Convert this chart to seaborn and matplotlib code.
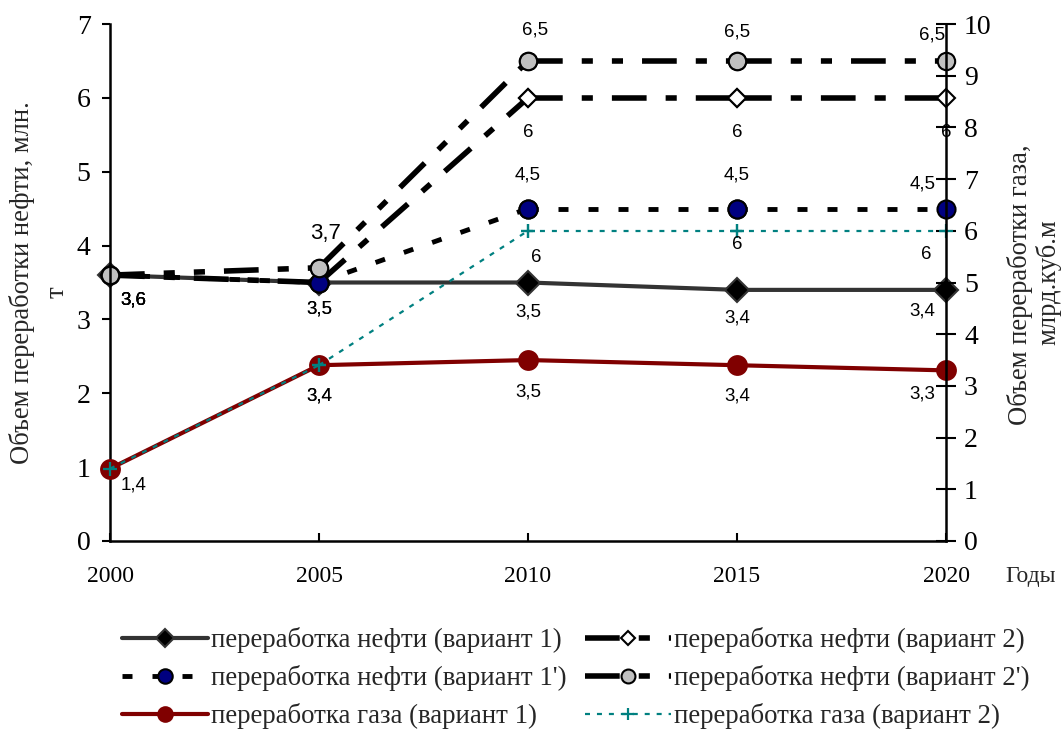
import matplotlib
matplotlib.use("Agg")
import matplotlib.pyplot as plt
import pandas as pd
import seaborn as sns

# ---- data -------------------------------------------------------------
years = [2000, 2005, 2010, 2015, 2020]
oil_v1 = [3.6, 3.5, 3.5, 3.4, 3.4]       # переработка нефти (вариант 1)
oil_v1p = [3.6, 3.5, 4.5, 4.5, 4.5]      # переработка нефти (вариант 1')
oil_v2 = [3.6, 3.5, 6.0, 6.0, 6.0]       # переработка нефти (вариант 2)
oil_v2p = [3.6, 3.7, 6.5, 6.5, 6.5]      # переработка нефти (вариант 2')
gas_v1 = [1.4, 3.4, 3.5, 3.4, 3.3]       # переработка газа (вариант 1)
gas_v2 = [1.4, 3.4, 6.0, 6.0, 6.0]       # переработка газа (вариант 2)

names = {
    "oil_v1": "переработка нефти (вариант 1)",
    "oil_v1p": "переработка нефти (вариант 1')",
    "oil_v2": "переработка нефти (вариант 2)",
    "oil_v2p": "переработка нефти (вариант 2')",
    "gas_v1": "переработка газа (вариант 1)",
    "gas_v2": "переработка газа (вариант 2)",
}

left_ticks = [0, 1, 2, 3, 4, 5, 6, 7]
right_ticks = [0, 1, 2, 3, 4, 5, 6, 7, 8, 9, 10]
left_title = ["Объем переработки нефти, млн.", "т"]
right_title = ["Объем переработки газа,", "млрд.куб.м"]
x_title = "Годы"

df = pd.DataFrame({"year": years, "oil_v1": oil_v1, "oil_v1p": oil_v1p,
                   "oil_v2": oil_v2, "oil_v2p": oil_v2p,
                   "gas_v1": gas_v1, "gas_v2": gas_v2})

# long form split into consecutive pairs, so that each dashed segment
# starts its dash pattern afresh at every data point
seg_rows = []
for i in range(len(years) - 1):
    for j in (i, i + 1):
        row = df.iloc[j].to_dict()
        row["seg"] = i
        seg_rows.append(row)
seg_df = pd.DataFrame(seg_rows)

# ---- styling ----------------------------------------------------------
sns.set_theme(style="white")
plt.rcParams["font.family"] = ["Liberation Serif", "DejaVu Serif"]
plt.rcParams["lines.scale_dashes"] = False
plt.rcParams["axes.linewidth"] = 1.8

SERIF = ["Liberation Serif", "DejaVu Serif"]
SANS = ["Liberation Sans", "DejaVu Sans"]

styles = {
    "oil_v1": dict(color="#333333", lw=3.0, ls="-", marker="D", ms=12,
                   mfc="black", mec="#333333", mew=1.5, segmented=False),
    "oil_v1p": dict(color="black", lw=3.5, ls=(0, (7.2, 14.4)), marker="o", ms=13,
                    mfc="#000080", mec="black", mew=1.5, segmented=True),
    "oil_v2": dict(color="black", lw=4.0, ls=(0, (25, 13.7, 8, 13.7)), marker="D",
                   ms=9, mfc="white", mec="black", mew=1.5, segmented=True),
    "oil_v2p": dict(color="black", lw=4.0, ls=(0, (25, 13.7, 8, 13.7, 8, 13.7)),
                    marker="o", ms=12.5, mfc="#C0C0C0", mec="black", mew=1.5,
                    segmented=True),
    "gas_v1": dict(color="#800000", lw=3.0, ls="-", marker="o", ms=15,
                   mfc="#800000", mec="#800000", mew=0, segmented=False),
    "gas_v2": dict(color="#008080", lw=1.6, ls=(0, (3.6, 5.0)), marker="+", ms=10,
                   mfc="#008080", mec="#008080", mew=1.6, segmented=True),
}

# value labels: offset (points) of each label, None where no label is drawn
label_offsets = {
    "oil_v1": [(17, -18), (0, -19), (0, -21), (0, -20), (-17, -15)],
    "oil_v1p": [(17, -18), None, (0, 24), (0, 24), (-17, 18)],
    "oil_v2": [(17, -18), (0, -19), (0, -25), (0, -25), (0, -25)],
    "oil_v2p": [(17, -18), (5, 25), (5, 22), (0, 21), (-10, 19)],
    "gas_v1": [(17, -12), (0, -22), (0, -23), (0, -22), (-17, -17)],
    "gas_v2": [None, (0, -22), (6, -19), (0, -10), (-14, -17)],
}
label_sizes = {"oil_v2p": [13.5, 16, 13.5, 13.5, 13.5]}

fig = plt.figure(figsize=(10.63, 7.33), dpi=100)
ax = fig.add_axes([110 / 1063, 1 - 541 / 733, (946 - 110) / 1063, (541 - 24) / 733])
ax2 = ax.twinx()


def draw(axis, key):
    st = styles[key]
    kw = dict(x="year", y=key, ax=axis, color=st["color"], linewidth=st["lw"],
              linestyle=st["ls"], marker=st["marker"], markersize=st["ms"],
              markerfacecolor=st["mfc"], markeredgecolor=st["mec"],
              markeredgewidth=st["mew"], clip_on=False, legend=False)
    n_before = len(axis.lines)
    if st["segmented"]:
        sns.lineplot(data=seg_df, units="seg", estimator=None, **kw)
    else:
        sns.lineplot(data=df, **kw)
    line = axis.lines[n_before]
    sizes = label_sizes.get(key, [13.5] * len(years))
    for i, (xv, yv) in enumerate(zip(years, df[key])):
        off = label_offsets[key][i]
        if off is None:
            continue
        axis.annotate(f"{yv:g}".replace(".", ","), (xv, yv), xytext=off,
                      textcoords="offset points", ha="center", va="center",
                      fontsize=sizes[i], family=SANS, color="black",
                      annotation_clip=False)
    return line


handles = {}
for k in ["oil_v1", "oil_v2", "oil_v1p", "oil_v2p"]:
    handles[k] = draw(ax, k)
for k in ["gas_v1", "gas_v2"]:
    handles[k] = draw(ax2, k)

# ---- axes -------------------------------------------------------------
ax.set_xlim(2000, 2020)
ax.set_ylim(0, 7)
ax2.set_ylim(0, 10)
ax.set_xticks(years)
ax.set_xticklabels([str(y) for y in years])
ax.set_yticks(left_ticks)
ax2.set_yticks(right_ticks)
ax.set_xlabel("")
ax.set_ylabel("")
ax2.set_ylabel("")

for s in ["top", "right"]:
    ax.spines[s].set_visible(False)
for s in ["top", "left", "bottom"]:
    ax2.spines[s].set_visible(False)
for sp in [ax.spines["left"], ax.spines["bottom"], ax2.spines["right"]]:
    sp.set_color("black")
    sp.set_linewidth(1.8)

ax.tick_params(axis="y", which="major", direction="out", length=6, width=1.5,
               colors="black", labelsize=20, pad=8, left=True)
ax.tick_params(axis="x", which="major", direction="in", length=6, width=1.5,
               colors="black", labelsize=17, pad=18, bottom=True)
ax2.tick_params(axis="y", which="major", direction="inout", length=14, width=1.5,
                colors="black", labelsize=20, pad=6, right=True)
for lab in ax.get_xticklabels() + ax.get_yticklabels() + ax2.get_yticklabels():
    lab.set_family(SERIF)
ax.grid(False)
ax2.grid(False)

# ---- titles -----------------------------------------------------------
fig.text(22 / 1063, 1 - 283 / 733, left_title[0], rotation=90, ha="center",
         va="center", fontsize=19.2, family=SERIF)
fig.text(57 / 1063, 1 - 292 / 733, left_title[1], rotation=90, ha="center",
         va="center", fontsize=19.2, family=SERIF)
fig.text(1020 / 1063, 1 - 285 / 733, right_title[0], rotation=90, ha="center",
         va="center", fontsize=19.2, family=SERIF)
fig.text(1048 / 1063, 1 - 282 / 733, right_title[1], rotation=90, ha="center",
         va="center", fontsize=19.2, family=SERIF)
fig.text(1031 / 1063, 1 - 582 / 733, x_title, ha="center", va="baseline",
         fontsize=17, family=SERIF)

# ---- legend -----------------------------------------------------------
order = ["oil_v1", "oil_v1p", "gas_v1", "oil_v2", "oil_v2p", "gas_v2"]
fig.legend([handles[k] for k in order], [names[k] for k in order], ncol=2,
           loc="upper left", bbox_to_anchor=(122 / 1063, 1 - 627 / 733),
           frameon=False, prop={"family": SERIF, "size": 19.25}, numpoints=1,
           handlelength=3.2, handletextpad=0.12, columnspacing=0.7,
           labelspacing=0.45, borderpad=0, borderaxespad=0, markerscale=0.8)

fig.savefig("out.png", dpi=100)
